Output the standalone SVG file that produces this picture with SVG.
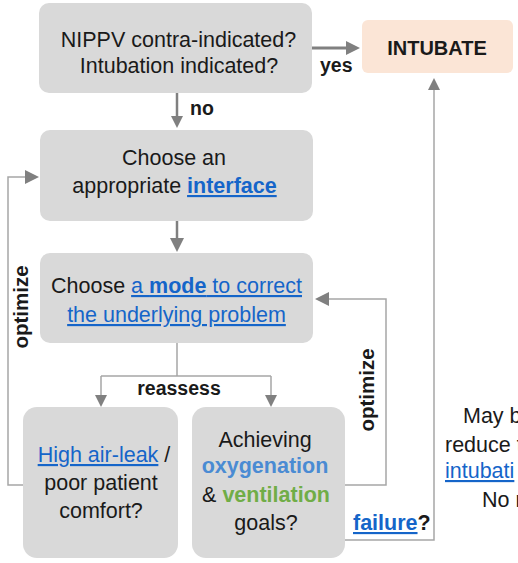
<svg xmlns="http://www.w3.org/2000/svg" width="518" height="563" viewBox="0 0 518 563">
<defs>
<style>
.box{fill:#d9d9d9;}
.t{font-family:"Liberation Sans",Arial,sans-serif;font-size:21.5px;fill:#1a1a1a;text-anchor:middle;}
.s{font-family:"Liberation Sans",Arial,sans-serif;font-size:21.5px;fill:#1a1a1a;text-anchor:start;}
.l{font-family:"Liberation Sans",Arial,sans-serif;font-size:19.5px;font-weight:bold;fill:#1a1a1a;}
.link{fill:#1565c9;text-decoration:underline;}
.main{fill:none;stroke:#808080;stroke-width:2.5;}
.thin{fill:none;stroke:#a6a6a6;stroke-width:1.5;}
</style>
<marker id="ah" markerUnits="userSpaceOnUse" markerWidth="14" markerHeight="14" refX="0" refY="7" orient="auto" viewBox="0 0 14 14">
<path d="M0,0 L14,7 L0,14 z" fill="#808080"/>
</marker>
<marker id="ahs" markerUnits="userSpaceOnUse" markerWidth="12" markerHeight="12" refX="0" refY="6" orient="auto" viewBox="0 0 12 12">
<path d="M0,0 L12,6 L0,12 z" fill="#808080"/>
</marker>
</defs>
<rect width="518" height="563" fill="#ffffff"/>

<g id="connectors">
<path class="main" style="stroke-width:3" d="M312,48 H346" marker-end="url(#ah)"/>
<path class="main" d="M177,93 V116" marker-end="url(#ahs)"/>
<path class="main" d="M177,221 V238" marker-end="url(#ah)"/>
<path class="thin" d="M23,485 H8 V177 H25" marker-end="url(#ah)"/>
<path class="thin" d="M345,485 H386 V299 H329" marker-end="url(#ah)"/>
<path class="thin" d="M177,343 V376 M101,376 H271"/>
<path class="thin" d="M101,376 V395" marker-end="url(#ahs)"/>
<path class="thin" d="M271,376 V395" marker-end="url(#ahs)"/>
<path class="thin" d="M345,540 H434 V90" marker-end="url(#ahs)"/>
<text class="l" x="320" y="72">yes</text>
<text class="l" x="190" y="115">no</text>
<text class="l" x="179" y="395" text-anchor="middle">reassess</text>
<text class="l" style="font-size:20.5px" text-anchor="middle" transform="translate(28,307) rotate(-90)">optimize</text>
<text class="l" style="font-size:20.5px" text-anchor="middle" transform="translate(374,390) rotate(-90)">optimize</text>
<text class="l" style="font-size:21.5px" x="353" y="530"><tspan class="link">failure</tspan>?</text>
</g>

<g id="n1">
<rect class="box" x="39" y="3" width="273" height="90" rx="10"/>
<text class="t" x="178.5" y="47">NIPPV contra-indicated?</text>
<text class="t" x="179" y="73">Intubation indicated?</text>
</g>

<g id="intubate">
<rect x="362" y="20" width="151" height="53" rx="6" fill="#fbe5d6"/>
<text class="t" x="437" y="55" style="font-size:20px;font-weight:bold">INTUBATE</text>
</g>

<g id="n2">
<rect class="box" x="40" y="130" width="273" height="91" rx="10"/>
<text class="t" x="174" y="165">Choose an</text>
<text class="t" x="174.5" y="193">appropriate <tspan class="link" font-weight="bold">interface</tspan></text>
</g>

<g id="n3">
<rect class="box" x="40" y="253" width="273" height="90" rx="10"/>
<text class="t" x="176.5" y="293">Choose <tspan class="link">a <tspan font-weight="bold">mode</tspan> to correct</tspan></text>
<text class="t" x="176.5" y="322"><tspan class="link">the underlying problem</tspan></text>
</g>

<g id="n4">
<rect class="box" x="23" y="407" width="155" height="151" rx="14"/>
<text class="t" x="104" y="462"><tspan class="link">High air-leak</tspan> /</text>
<text class="t" x="101" y="490">poor patient</text>
<text class="t" x="101" y="518">comfort?</text>
</g>

<g id="n5">
<rect class="box" x="192" y="407" width="153" height="151" rx="14"/>
<text class="t" x="265" y="447">Achieving</text>
<text class="t" x="265" y="473" style="font-weight:bold;fill:#4a8bd3">oxygenation</text>
<text class="t" x="266" y="502">&amp; <tspan font-weight="bold" fill="#70ad47">ventilation</tspan></text>
<text class="t" x="266" y="530">goals?</text>
</g>

<g id="side-note">
<text class="s" x="463" y="423">May b</text>
<text class="s" x="445" y="452">reduce t</text>
<text class="s" x="445" y="478"><tspan class="link">intubati</tspan></text>
<text class="s" x="482" y="507">No r</text>
</g>
</svg>
